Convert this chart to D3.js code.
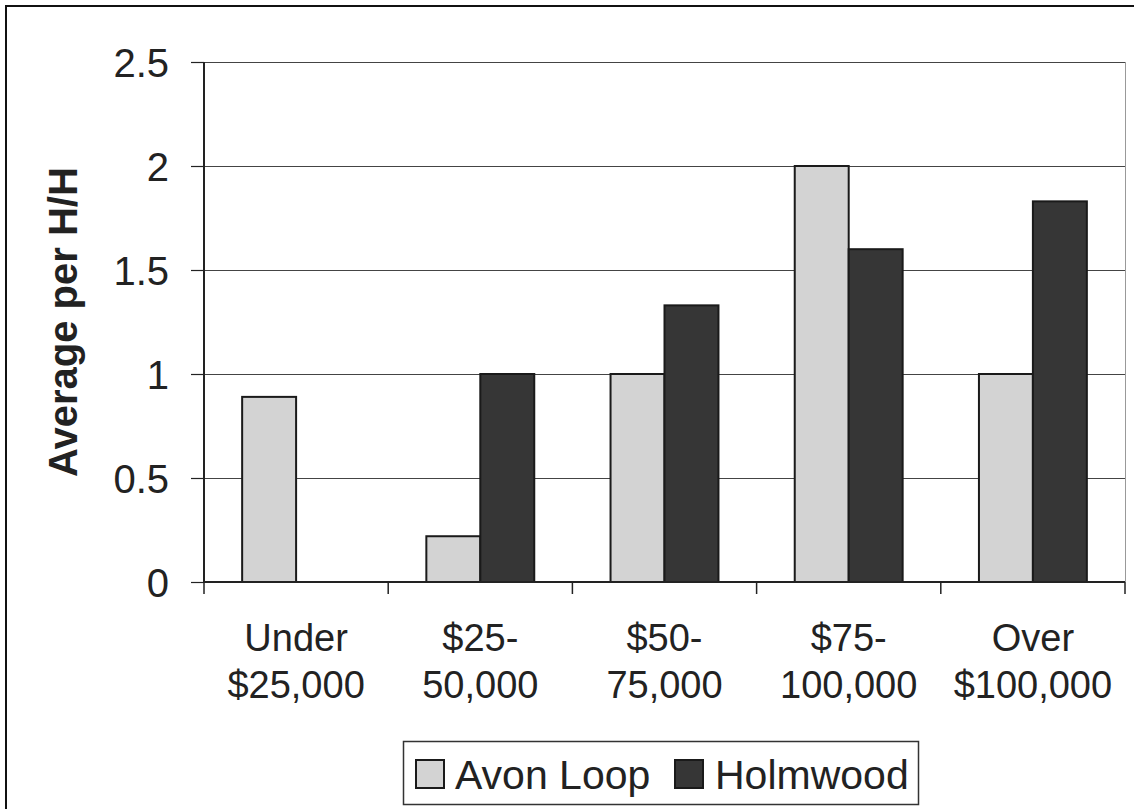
<!DOCTYPE html>
<html>
<head>
<meta charset="utf-8">
<script src="https://cdn.jsdelivr.net/npm/d3@7"></script>
<style>
  html, body { margin: 0; padding: 0; background: #fff; }
  svg { display: block; font-family: Arial, "Liberation Sans", sans-serif; }
</style>
</head>
<body>
<svg id="chart" width="1134" height="809"></svg>
<script>
const categories = [["Under", "$25,000"], ["$25-", "50,000"], ["$50-", "75,000"], ["$75-", "100,000"], ["Over", "$100,000"]];
const seriesNames = ["Avon Loop", "Holmwood"];
const avonLoop = [0.89, 0.22, 1.0, 2.0, 1.0];
const holmwood = [0, 1.0, 1.33, 1.6, 1.83];
const yTicks = [0, 0.5, 1, 1.5, 2, 2.5];
const colors = ["#d3d3d3", "#363636"];

(function () {
const svg = d3.select("#chart");
const W = 1134, H = 809;
const pLeft = 204, pRight = 1125, pTop = 62, pBottom = 582;

// outer border (left and top visible, others clipped)
svg.append("rect").attr("x", 6).attr("y", 6).attr("width", W + 10).attr("height", H + 10)
  .attr("fill", "#fff").attr("stroke", "#111").attr("stroke-width", 2);

const catIdx = categories.map((d, i) => i);
const x = d3.scaleBand().domain(catIdx).range([pLeft, pRight]).paddingInner(0).paddingOuter(0);
const y = d3.scaleLinear().domain([0, 2.5]).range([pBottom, pTop]);
const x1 = d3.scaleBand().domain([0, 1]).range([0, x.bandwidth()]).paddingInner(0).paddingOuter(0.707);

// gridlines
svg.append("g").selectAll("line").data(yTicks.filter(t => t > 0)).join("line")
  .attr("x1", pLeft).attr("x2", pRight)
  .attr("y1", d => Math.round(y(d)) + 0.5).attr("y2", d => Math.round(y(d)) + 0.5)
  .attr("stroke", "#444").attr("stroke-width", 1.2);

// right edge of plot
svg.append("line").attr("x1", pRight + 0.5).attr("x2", pRight + 0.5).attr("y1", pTop).attr("y2", pBottom)
  .attr("stroke", "#999").attr("stroke-width", 1);

// bars
const series = [avonLoop, holmwood];
series.forEach((vals, s) => {
  svg.append("g").selectAll("rect").data(vals.map((v, i) => ({v, i})).filter(d => d.v > 0)).join("rect")
    .attr("x", d => x(d.i) + x1(s))
    .attr("y", d => y(d.v))
    .attr("width", x1.bandwidth())
    .attr("height", d => y(0) - y(d.v))
    .attr("fill", colors[s])
    .attr("stroke", "#1a1a1a").attr("stroke-width", 2);
});

// y axis
const yAxis = d3.axisLeft(y).tickValues(yTicks).tickSize(13).tickPadding(22)
  .tickFormat(d => d3.format("")(d));
const gy = svg.append("g").attr("transform", `translate(${pLeft},0)`).call(yAxis);
gy.select(".domain").attr("stroke", "#222").attr("stroke-width", 2).attr("d", `M0,${y(2.5)}V${y(0)}`);
gy.selectAll(".tick line").attr("stroke", "#222").attr("stroke-width", 1.2);
gy.selectAll(".tick text").attr("font-size", 40).attr("fill", "#222")
  .attr("font-family", "Arial, 'Liberation Sans', sans-serif").attr("dy", "0.36em");

// x axis
const xAxis = d3.axisBottom(x).tickSize(0).tickFormat("");
const gx = svg.append("g").attr("transform", `translate(0,${pBottom})`).call(xAxis);
gx.select(".domain").attr("stroke", "#222").attr("stroke-width", 2).attr("d", `M${pLeft},0H${pRight}`);
gx.selectAll(".tick").remove();
// category separator ticks
const bounds = catIdx.map(i => x(i)).concat([pRight]);
svg.append("g").selectAll("line").data(bounds).join("line")
  .attr("x1", d => d).attr("x2", d => d)
  .attr("y1", pBottom).attr("y2", pBottom + 12)
  .attr("stroke", "#222").attr("stroke-width", 1.5);

// category labels
const lab = svg.append("g").attr("font-size", 38).attr("fill", "#222").attr("text-anchor", "middle");
categories.forEach((c, i) => {
  const cx = x(i) + x.bandwidth() / 2;
  const t = lab.append("text");
  t.append("tspan").attr("x", cx).attr("y", 651).text(c[0]);
  t.append("tspan").attr("x", cx).attr("y", 698).text(c[1]);
});

// y axis title
svg.append("text")
  .attr("transform", `translate(77,${(pTop + pBottom) / 2}) rotate(-90)`)
  .attr("text-anchor", "middle").attr("font-size", 40).attr("font-weight", "bold").attr("fill", "#222")
  .text("Average per H/H");

// legend
const lg = svg.append("g");
lg.append("rect").attr("x", 403.5).attr("y", 741.5).attr("width", 515).attr("height", 63)
  .attr("fill", "#fff").attr("stroke", "#333").attr("stroke-width", 1.5);
const legendItems = [{x: 416, tx: 455}, {x: 675, tx: 715}];
seriesNames.forEach((n, i) => {
  lg.append("rect").attr("x", legendItems[i].x).attr("y", 760).attr("width", 28).attr("height", 28)
    .attr("fill", colors[i]).attr("stroke", "#1a1a1a").attr("stroke-width", 2);
  lg.append("text").attr("x", legendItems[i].tx).attr("y", 789).attr("font-size", 41).attr("fill", "#222").text(n);
});
})();
</script>
</body>
</html>
